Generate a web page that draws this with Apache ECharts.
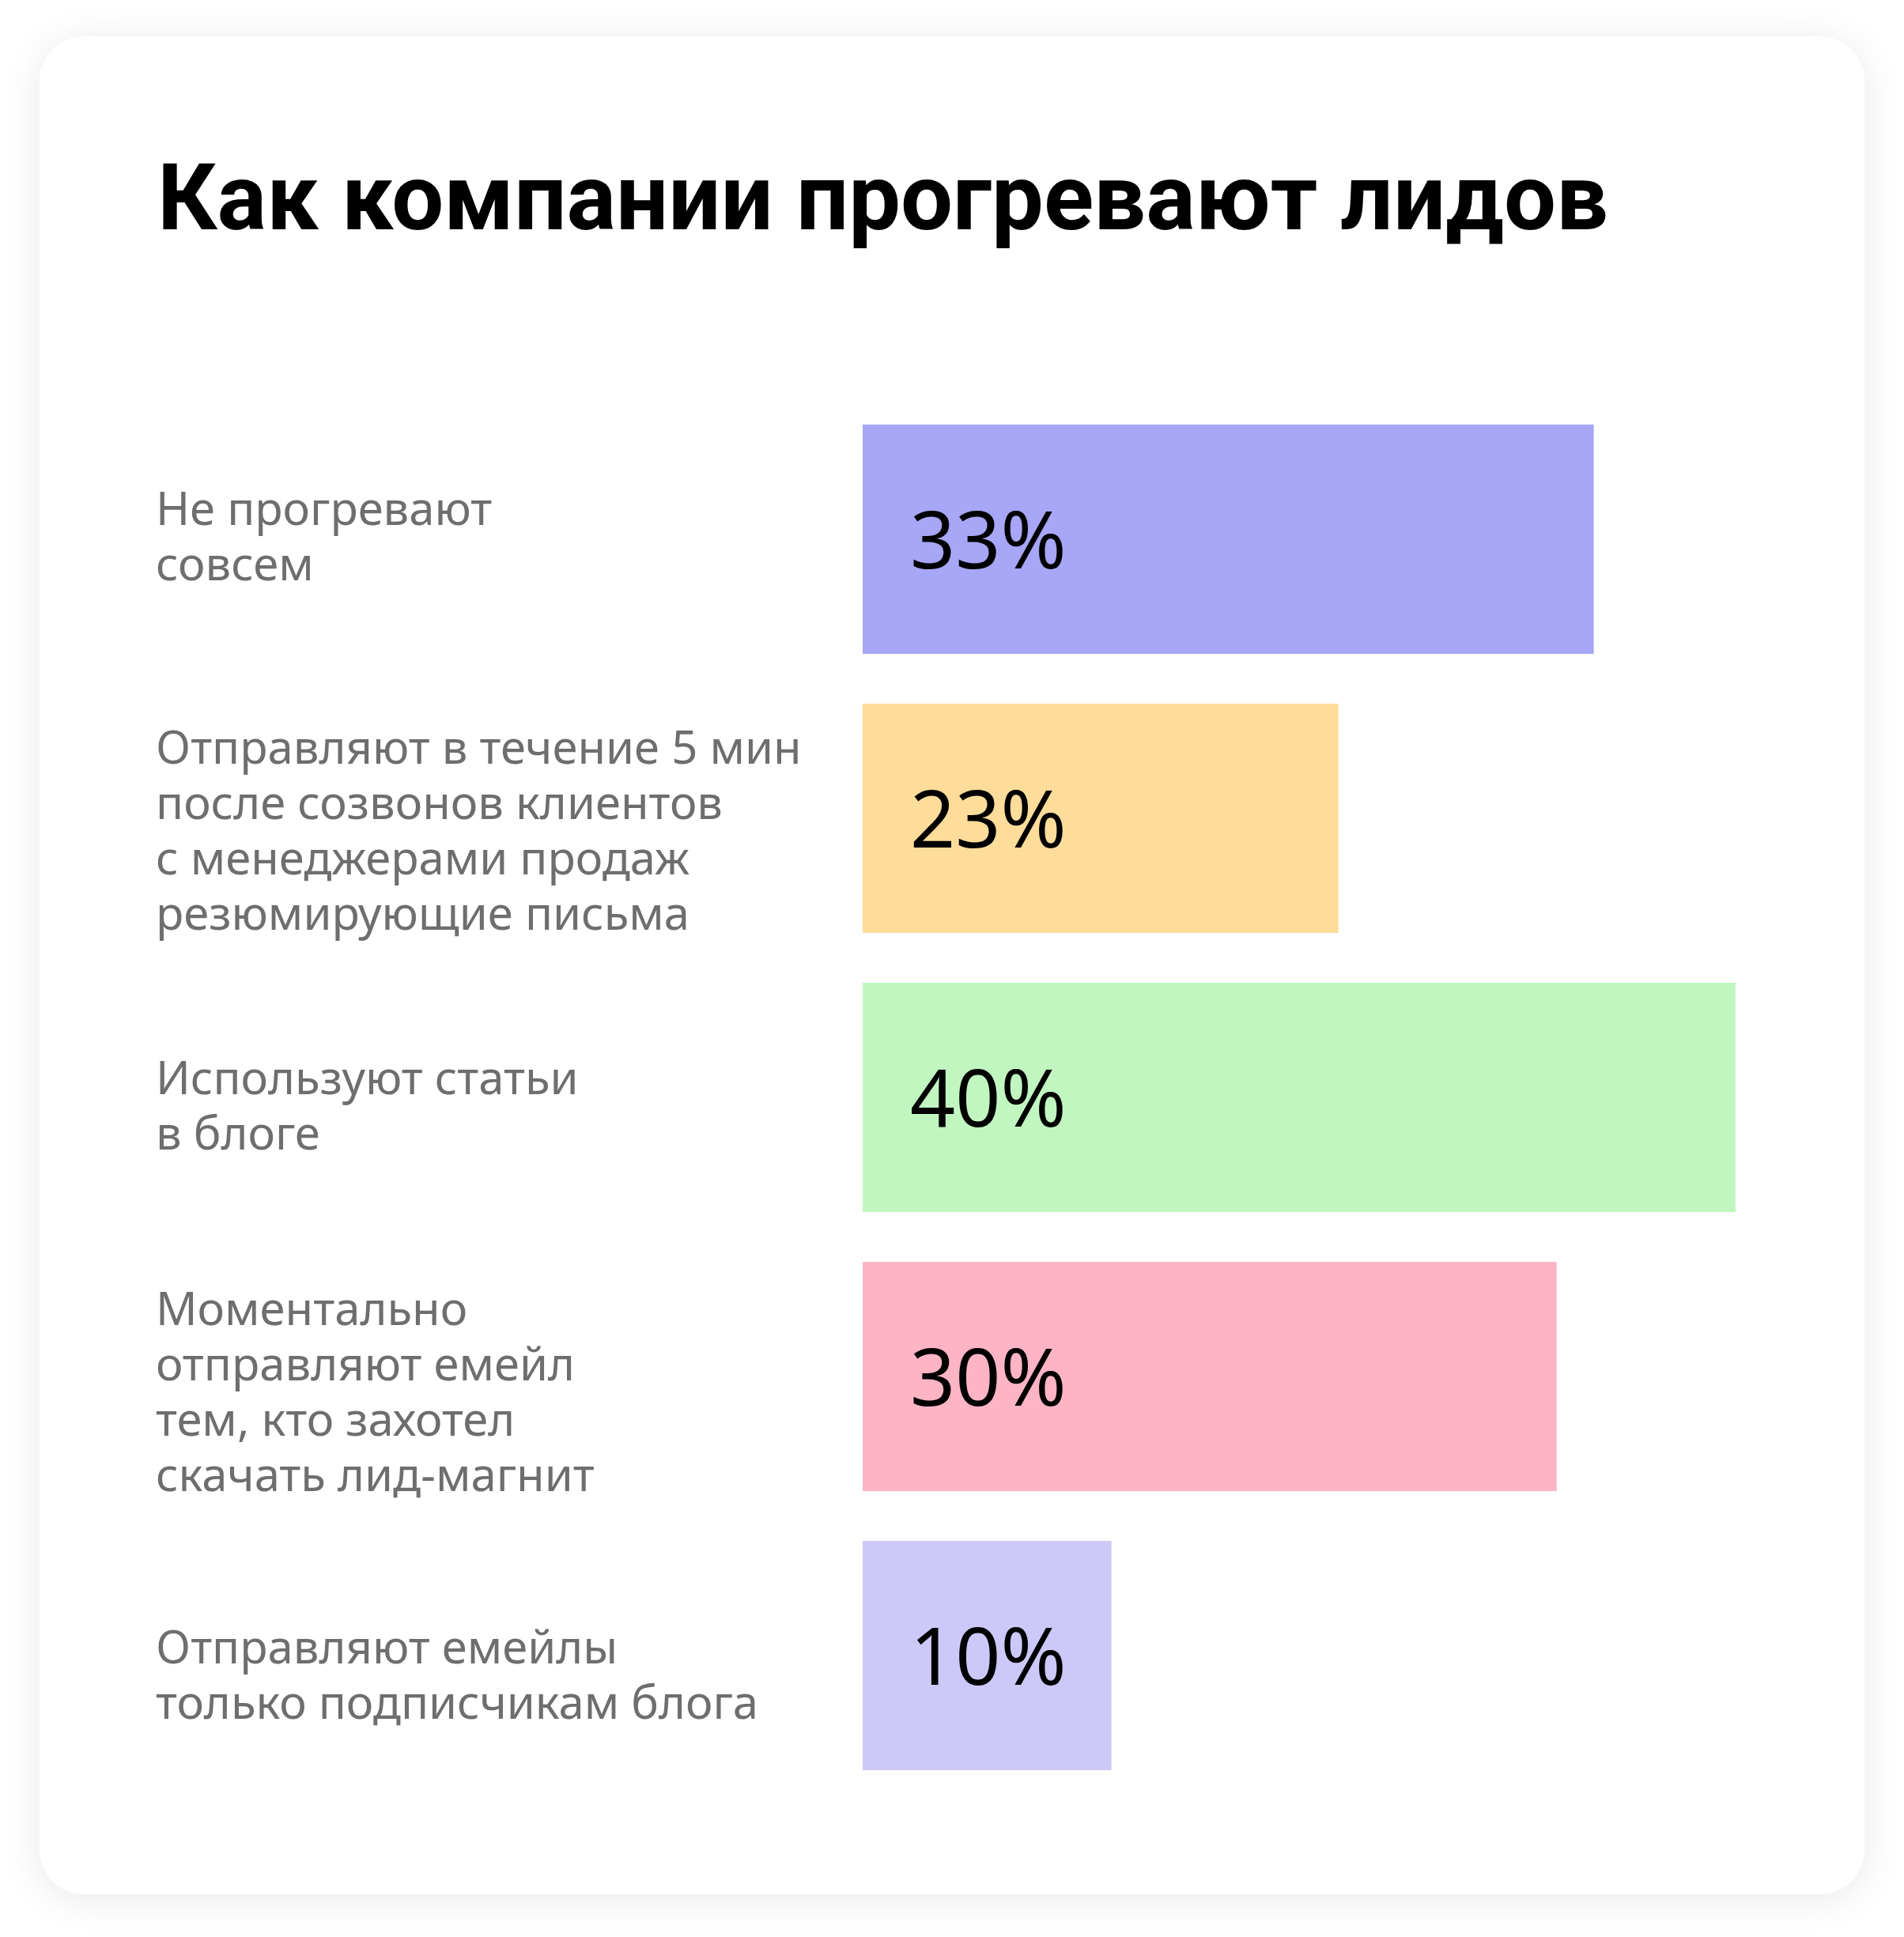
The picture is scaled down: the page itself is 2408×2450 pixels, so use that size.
<!DOCTYPE html>
<html>
<head>
<meta charset="utf-8">
<style>
html,body{margin:0;padding:0;background:#ffffff;}
#chart{width:2408px;height:2450px;}
</style>
<script src="https://cdn.jsdelivr.net/npm/echarts@6/dist/echarts.min.js"></script>
</head>
<body>
<div id="chart"></div>
<script>
// ---- data ----
var titleText = 'Как компании прогревают лидов';
var categories = [
  'Не прогревают\nсовсем',
  'Отправляют в течение 5 мин\nпосле созвонов клиентов\nс менеджерами продаж\nрезюмирующие письма',
  'Используют статьи\nв блоге',
  'Моментально\nотправляют емейл\nтем, кто захотел\nскачать лид-магнит',
  'Отправляют емейлы\nтолько подписчикам блога'
];
// percentages printed on the bars
var percentLabels = [33, 23, 40, 30, 10];
// bar lengths as drawn in the picture (same scale, 0..40)
var barLengths = [33.5, 21.8, 40, 31.8, 11.4];
var barColors = ['#A7A6F7', '#FEDC9A', '#C1F6C0', '#FDB4C5', '#CCC9F9'];

// ---- layout (not data) ----
var labelNudge = [0, 19, 14, 23, 28]; // downward nudge of each category label, px

var chart = echarts.init(document.getElementById('chart'), null, {renderer: 'canvas'});

var seriesData = barLengths.map(function (v, i) {
  return {value: v, itemStyle: {color: barColors[i]}};
});

// invisible spacer line on top of a label pushes the centred block down by half its height
var richSpacers = {};
labelNudge.forEach(function (n, i) {
  richSpacers['s' + i] = {fontSize: 8, lineHeight: Math.max(1, 2 * n), height: Math.max(1, 2 * n)};
});

chart.setOption({
  backgroundColor: '#ffffff',
  animation: false,
  graphic: [{
    type: 'rect',
    z: -10,
    shape: {x: 50, y: 46, width: 2308, height: 2350, r: 56},
    style: {fill: '#ffffff', shadowBlur: 50, shadowColor: 'rgba(0,0,0,0.09)', shadowOffsetY: 6}
  }],
  title: {
    text: titleText,
    left: 194,
    top: 197,
    textStyle: {fontFamily: 'Roboto', fontWeight: 'bold', fontSize: 117, color: '#000000', lineHeight: 117}
  },
  grid: {left: 1091, right: 213, top: 505.5, height: 1765, containLabel: false, outerBoundsMode: 'none'},
  xAxis: {
    type: 'value', min: 0, max: 40, show: false
  },
  yAxis: {
    type: 'category',
    inverse: true,
    data: categories,
    axisLine: {show: false},
    axisTick: {show: false},
    splitLine: {show: false},
    axisLabel: {
      margin: 894,
      align: 'left',
      fontFamily: 'Noto Sans',
      fontSize: 58,
      lineHeight: 70,
      color: '#6e6e6e',
      formatter: function (value, idx) {
        return labelNudge[idx] ? '{s' + idx + '| }\n' + value : value;
      },
      rich: richSpacers
    }
  },
  series: [{
    type: 'bar',
    data: seriesData,
    barWidth: 290,
    label: {
      show: true,
      position: 'insideLeft',
      distance: 60,
      offset: [0, 9],
      formatter: function (p) { return percentLabels[p.dataIndex] + '%'; },
      fontFamily: 'Noto Sans',
      fontSize: 100,
      color: '#000000'
    }
  }]
});
</script>
</body>
</html>
